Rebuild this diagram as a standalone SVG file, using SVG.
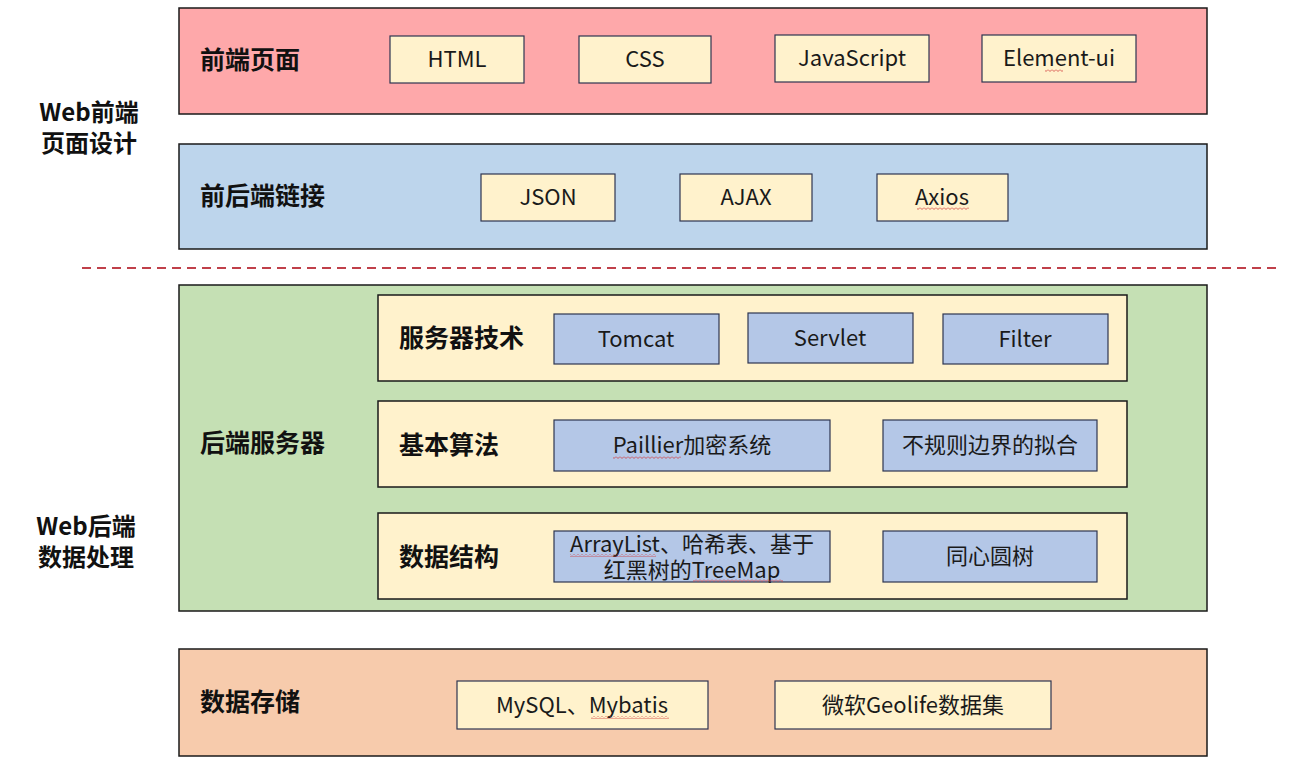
<svg xmlns="http://www.w3.org/2000/svg" width="1303" height="766" viewBox="0 0 1303 766">
<style>
.outer{stroke:#1a1a1a;stroke-width:1.5}
.pink{fill:#FEA8AA}
.blue{fill:#BDD5EC}
.green{fill:#C5E0B4}
.orange{fill:#F7CBAC}
.yel{fill:#FFF2CC;stroke:#2E3550;stroke-width:1.2}
.row{fill:#FFF2CC;stroke:#1a1a1a;stroke-width:1.5}
.bl{fill:#B4C7E7;stroke:#2E3550;stroke-width:1.2}
.lab{font-family:"Noto Sans CJK SC","Noto Sans",sans-serif;font-size:25px;font-weight:bold;fill:#111}
.side{font-family:"Noto Sans CJK SC","Noto Sans",sans-serif;font-size:24px;font-weight:bold;fill:#111;text-anchor:middle}
.t{font-family:"Noto Sans CJK SC","Noto Sans",sans-serif;font-size:22px;fill:#1a1a1a;text-anchor:middle}
</style>
<defs>
<pattern id="wv" width="4" height="3" patternUnits="userSpaceOnUse">
<path d="M0 0.5 L2 2.5 L4 0.5" fill="none" stroke="#D03838" stroke-width="0.8"/>
</pattern>
</defs>
<rect width="1303" height="766" fill="#ffffff"/>

<g id="side-labels">
<text class="side"><tspan x="89" y="121">Web前端</tspan><tspan x="89" y="152">页面设计</tspan></text>
<text class="side"><tspan x="86" y="535">Web后端</tspan><tspan x="86" y="566">数据处理</tspan></text>
</g>

<g id="connectors">
<line x1="82" y1="268" x2="1282" y2="268" stroke="#C0404A" stroke-width="2" stroke-dasharray="9,6"/>
</g>

<g id="frontend-page">
<rect class="outer pink" x="179" y="8" width="1028" height="106"/>
<text class="lab" x="200" y="69">前端页面</text>
<rect class="yel" x="390" y="36" width="134" height="47"/>
<text class="t" x="457" y="67">HTML</text>
<rect class="yel" x="579" y="36" width="132" height="47"/>
<text class="t" x="645" y="67">CSS</text>
<rect class="yel" x="775" y="35" width="154" height="47"/>
<text class="t" x="852" y="66">JavaScript</text>
<rect class="yel" x="982" y="35" width="154" height="47"/>
<text class="t" x="1059" y="66">Element-ui</text>
<rect x="1045" y="69" width="18" height="3" fill="url(#wv)"/>
</g>

<g id="frontend-backend-link">
<rect class="outer blue" x="179" y="144" width="1028" height="105"/>
<text class="lab" x="200" y="205">前后端链接</text>
<rect class="yel" x="481" y="174" width="134" height="47"/>
<text class="t" x="548" y="205">JSON</text>
<rect class="yel" x="680" y="174" width="132" height="47"/>
<text class="t" x="746" y="205">AJAX</text>
<rect class="yel" x="877" y="174" width="131" height="47"/>
<text class="t" x="942" y="205">Axios</text>
<rect x="917" y="207" width="52" height="3" fill="url(#wv)"/>
</g>

<g id="backend-server">
<rect class="outer green" x="179" y="285" width="1028" height="326"/>
<text class="lab" x="200" y="452">后端服务器</text>
</g>

<g id="server-tech">
<rect class="row" x="378" y="295" width="749" height="86"/>
<text class="lab" x="399" y="347">服务器技术</text>
<rect class="bl" x="554" y="314" width="165" height="50"/>
<text class="t" x="636" y="347">Tomcat</text>
<rect class="bl" x="748" y="313" width="165" height="50"/>
<text class="t" x="830" y="346">Servlet</text>
<rect class="bl" x="943" y="314" width="165" height="50"/>
<text class="t" x="1025" y="347">Filter</text>
</g>

<g id="basic-algorithms">
<rect class="row" x="378" y="401" width="749" height="86"/>
<text class="lab" x="399" y="454">基本算法</text>
<rect class="bl" x="554" y="420" width="276" height="51"/>
<text class="t" x="692" y="453">Paillier加密系统</text>
<rect x="613" y="456" width="68" height="3" fill="url(#wv)"/>
<rect class="bl" x="883" y="420" width="214" height="51"/>
<text class="t" x="990" y="453">不规则边界的拟合</text>
</g>

<g id="data-structures">
<rect class="row" x="378" y="513" width="749" height="86"/>
<text class="lab" x="399" y="566">数据结构</text>
<rect class="bl" x="554" y="531" width="276" height="51"/>
<text class="t"><tspan x="692" y="552">ArrayList、哈希表、基于</tspan><tspan x="692" y="578">红黑树的TreeMap</tspan></text>
<rect x="570" y="554" width="86" height="3" fill="url(#wv)"/>
<rect x="693" y="579" width="90" height="3" fill="url(#wv)"/>
<rect class="bl" x="883" y="531" width="214" height="51"/>
<text class="t" x="990" y="564">同心圆树</text>
</g>

<g id="data-storage">
<rect class="outer orange" x="179" y="649" width="1028" height="107"/>
<text class="lab" x="200" y="711">数据存储</text>
<rect class="yel" x="457" y="681" width="251" height="48"/>
<text class="t" x="582" y="713">MySQL、Mybatis</text>
<rect x="591" y="716" width="78" height="3" fill="url(#wv)"/>
<rect class="yel" x="775" y="681" width="276" height="48"/>
<text class="t" x="913" y="713">微软Geolife数据集</text>
</g>
</svg>
